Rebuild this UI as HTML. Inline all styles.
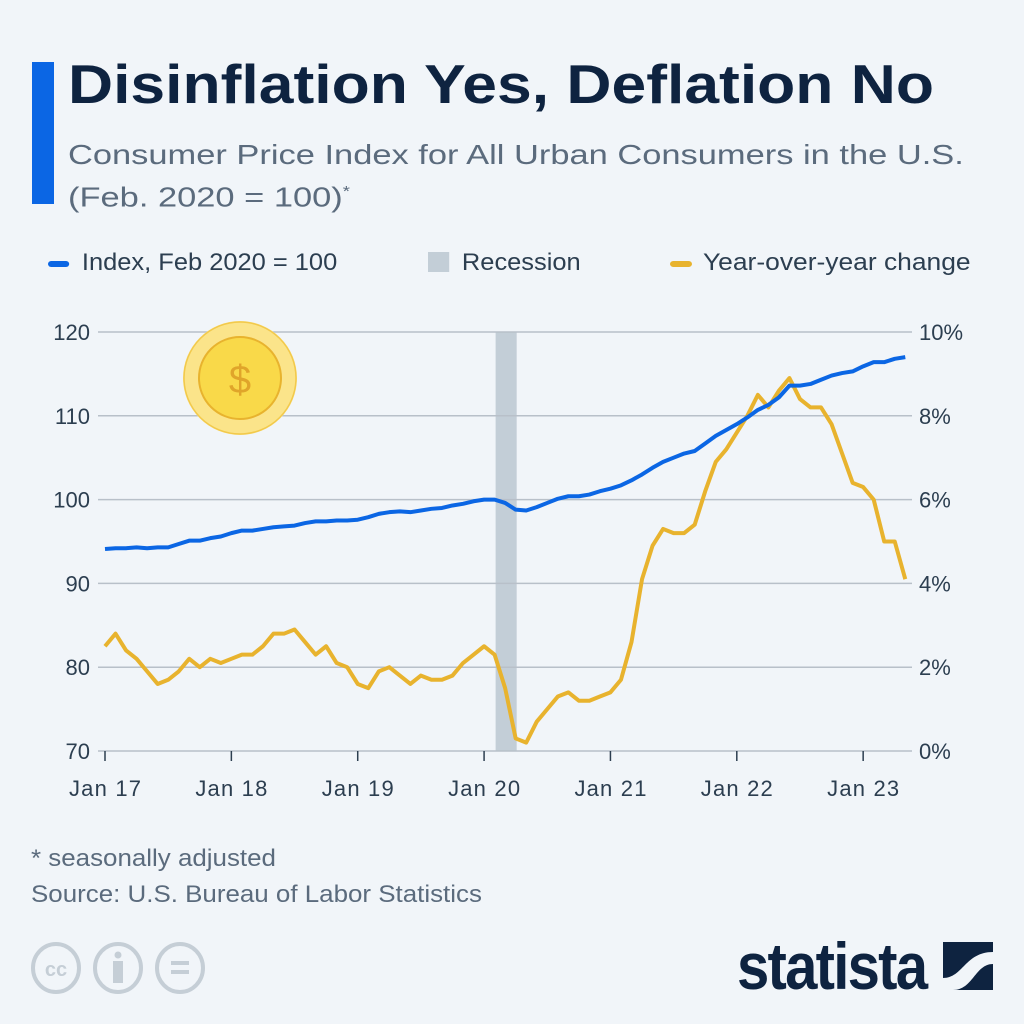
<!DOCTYPE html>
<html><head><meta charset="utf-8"><style>
body{margin:0;background:#f1f5f9;font-family:"Liberation Sans",sans-serif;}
#wrap{position:relative;width:1024px;height:1024px;overflow:hidden;background:#f1f5f9;}
.t{position:absolute;white-space:nowrap;transform-origin:left top;}
</style></head><body>
<div id="wrap">
<div class="t" style="left:32px;top:62px;width:22px;height:142px;background:#0b66e4"></div>
<div class="t" style="left:68px;top:52px;font-size:55px;font-weight:bold;color:#0e2340;transform:scaleX(1.135)">Disinflation Yes, Deflation No</div>
<div class="t" style="left:68px;top:136px;font-size:28px;line-height:37px;color:#5b6b7d;transform:scaleX(1.23)">Consumer Price Index for All Urban Consumers in the U.S.<br>(Feb. 2020 = 100)<sup style="font-size:15px">*</sup></div>
<div class="t" style="left:48px;top:249px;font-size:24px;color:#2c3e50;transform:scaleX(1.06)"><span style="display:inline-block;width:20px;height:6px;background:#0b66e4;border-radius:3px;vertical-align:middle;margin-right:12px"></span>Index, Feb 2020 = 100</div>
<div class="t" style="left:428px;top:249px;font-size:24px;color:#2c3e50;transform:scaleX(1.06)"><span style="display:inline-block;width:20px;height:20px;background:#c3ced7;vertical-align:middle;margin-right:12px;position:relative;top:-2px"></span>Recession</div>
<div class="t" style="left:670px;top:249px;font-size:24px;color:#2c3e50;transform:scaleX(1.1)"><span style="display:inline-block;width:20px;height:6px;background:#e8b32e;border-radius:3px;vertical-align:middle;margin-right:10px"></span>Year-over-year change</div>
<svg id="chart" width="1024" height="1024" style="position:absolute;left:0;top:0" font-family="Liberation Sans, sans-serif"></svg>
<div class="t" style="left:31px;top:845px;font-size:24px;color:#5b6b7d;transform:scaleX(1.08)">* seasonally adjusted</div>
<div class="t" style="left:31px;top:881px;font-size:24px;color:#5b6b7d;transform:scaleX(1.08)">Source: U.S. Bureau of Labor Statistics</div>
<svg class="t" style="left:30px;top:942px" width="190" height="54">
<g fill="none" stroke="#c5ced6" stroke-width="4"><ellipse cx="26" cy="26" rx="23" ry="24"/><ellipse cx="88" cy="26" rx="23" ry="24"/><ellipse cx="150" cy="26" rx="23" ry="24"/></g>
<text x="26" y="34" text-anchor="middle" font-size="20" font-weight="bold" fill="#c5ced6">cc</text>
<circle cx="88" cy="13" r="3.5" fill="#c5ced6"/><rect x="83" y="19" width="10" height="22" fill="#c5ced6"/>
<rect x="141" y="19" width="18" height="4" fill="#c5ced6"/><rect x="141" y="28" width="18" height="4" fill="#c5ced6"/>
</svg>
<div class="t" style="left:737px;top:928px;font-size:66px;font-weight:bold;color:#0e2340;letter-spacing:-2px;transform:scaleX(0.88)">statista</div>
<svg class="t" style="left:943px;top:942px" width="50" height="48"><rect width="50" height="48" fill="#0e2340"/><path d="M0 36 C20 36 22 10 50 10 L50 22 C32 22 30 48 10 48 L0 48Z" fill="#f1f5f9"/></svg>
</div>
<script>
const idxValues=[94.1,94.2,94.2,94.3,94.2,94.3,94.3,94.7,95.1,95.1,95.4,95.6,
96.0,96.3,96.3,96.5,96.7,96.8,96.9,97.2,97.4,97.4,97.5,97.5,
97.6,97.9,98.3,98.5,98.6,98.5,98.7,98.9,99.0,99.3,99.5,99.8,
100.0,100.0,99.6,98.8,98.7,99.1,99.6,100.1,100.4,100.4,100.6,101.0,
101.3,101.7,102.3,103.0,103.8,104.5,105.0,105.5,105.8,106.7,107.6,108.3,
109.0,109.8,110.7,111.3,112.2,113.6,113.6,113.8,114.3,114.8,115.1,115.3,
115.9,116.4,116.4,116.8,117.0];
const yoyValues=[2.5,2.8,2.4,2.2,1.9,1.6,1.7,1.9,2.2,2.0,2.2,2.1,
2.2,2.3,2.3,2.5,2.8,2.8,2.9,2.6,2.3,2.5,2.1,2.0,
1.6,1.5,1.9,2.0,1.8,1.6,1.8,1.7,1.7,1.8,2.1,2.3,
2.5,2.3,1.5,0.3,0.2,0.7,1.0,1.3,1.4,1.2,1.2,1.3,
1.4,1.7,2.6,4.1,4.9,5.3,5.2,5.2,5.4,6.2,6.9,7.2,
7.6,8.0,8.5,8.2,8.6,8.9,8.4,8.2,8.2,7.8,7.1,6.4,
6.3,6.0,5.0,5.0,4.1];
const leftTicks=[70,80,90,100,110,120];
const rightTicks=[0,2,4,6,8,10];
const xTickLabels=["Jan 17","Jan 18","Jan 19","Jan 20","Jan 21","Jan 22","Jan 23"];
const recession=[37,39];

const svg=document.getElementById('chart');
const NS='http://www.w3.org/2000/svg';
const X0=105,MONTH=10.53,YT=332,YB=751;
const xs=i=>X0+i*MONTH;
const yL=v=>YB-(v-70)/50*(YB-YT);
const yR=v=>YB-v/10*(YB-YT);
function mk(tag,attrs){const e=document.createElementNS(NS,tag);for(const k in attrs)e.setAttribute(k,attrs[k]);svg.appendChild(e);return e;}

const rec=mk('rect',{x:xs(recession[0])+1,y:YT,width:xs(recession[1])-xs(recession[0]),height:YB-YT,fill:'#c3ced7'});



leftTicks.forEach((v,i)=>{
  const g=mk('line',{x1:98,x2:912,y1:yL(v),y2:yL(v),stroke:'#b8c0c9','stroke-width':1.5});
  
  
  const t=mk('text',{x:90,y:yL(v)+8,'text-anchor':'end','font-size':22,fill:'#2c3e50'});t.textContent=v;
  
  
  const r=mk('text',{x:919,y:yR(rightTicks[i])+8,'font-size':22,fill:'#2c3e50'});r.textContent=rightTicks[i]+'%';
  
  
});
xTickLabels.forEach((l,i)=>{
  const x=xs(i*12);
  const tk=mk('line',{x1:x,x2:x,y1:YB,y2:YB+10,stroke:'#2c3e50','stroke-width':1.5});
  
  
  const t=mk('text',{x:x,y:796,'text-anchor':'middle','font-size':22,fill:'#2c3e50',textLength:72});t.textContent=l;
  
  
});

const c1=mk('circle',{cx:240,cy:378,r:57,fill:'#fbe48a'});


const c2=mk('circle',{cx:240,cy:378,r:56,fill:'none',stroke:'#f2c94c','stroke-width':1.5});


const c3=mk('circle',{cx:240,cy:378,r:41,fill:'#f9d949',stroke:'#e8b32e','stroke-width':2});


const cd=mk('text',{x:240,y:393,'text-anchor':'middle','font-size':40,fill:'#e0a52a'});cd.textContent='$';



const yl=mk('polyline',{points:yoyValues.map((v,i)=>xs(i)+','+yR(v)).join(' '),fill:'none',stroke:'#e8b32e','stroke-width':4,'stroke-linejoin':'round'});


const bl=mk('polyline',{points:idxValues.map((v,i)=>xs(i)+','+yL(v)).join(' '),fill:'none',stroke:'#0b66e4','stroke-width':4,'stroke-linejoin':'round'});


</script>
</body></html>
